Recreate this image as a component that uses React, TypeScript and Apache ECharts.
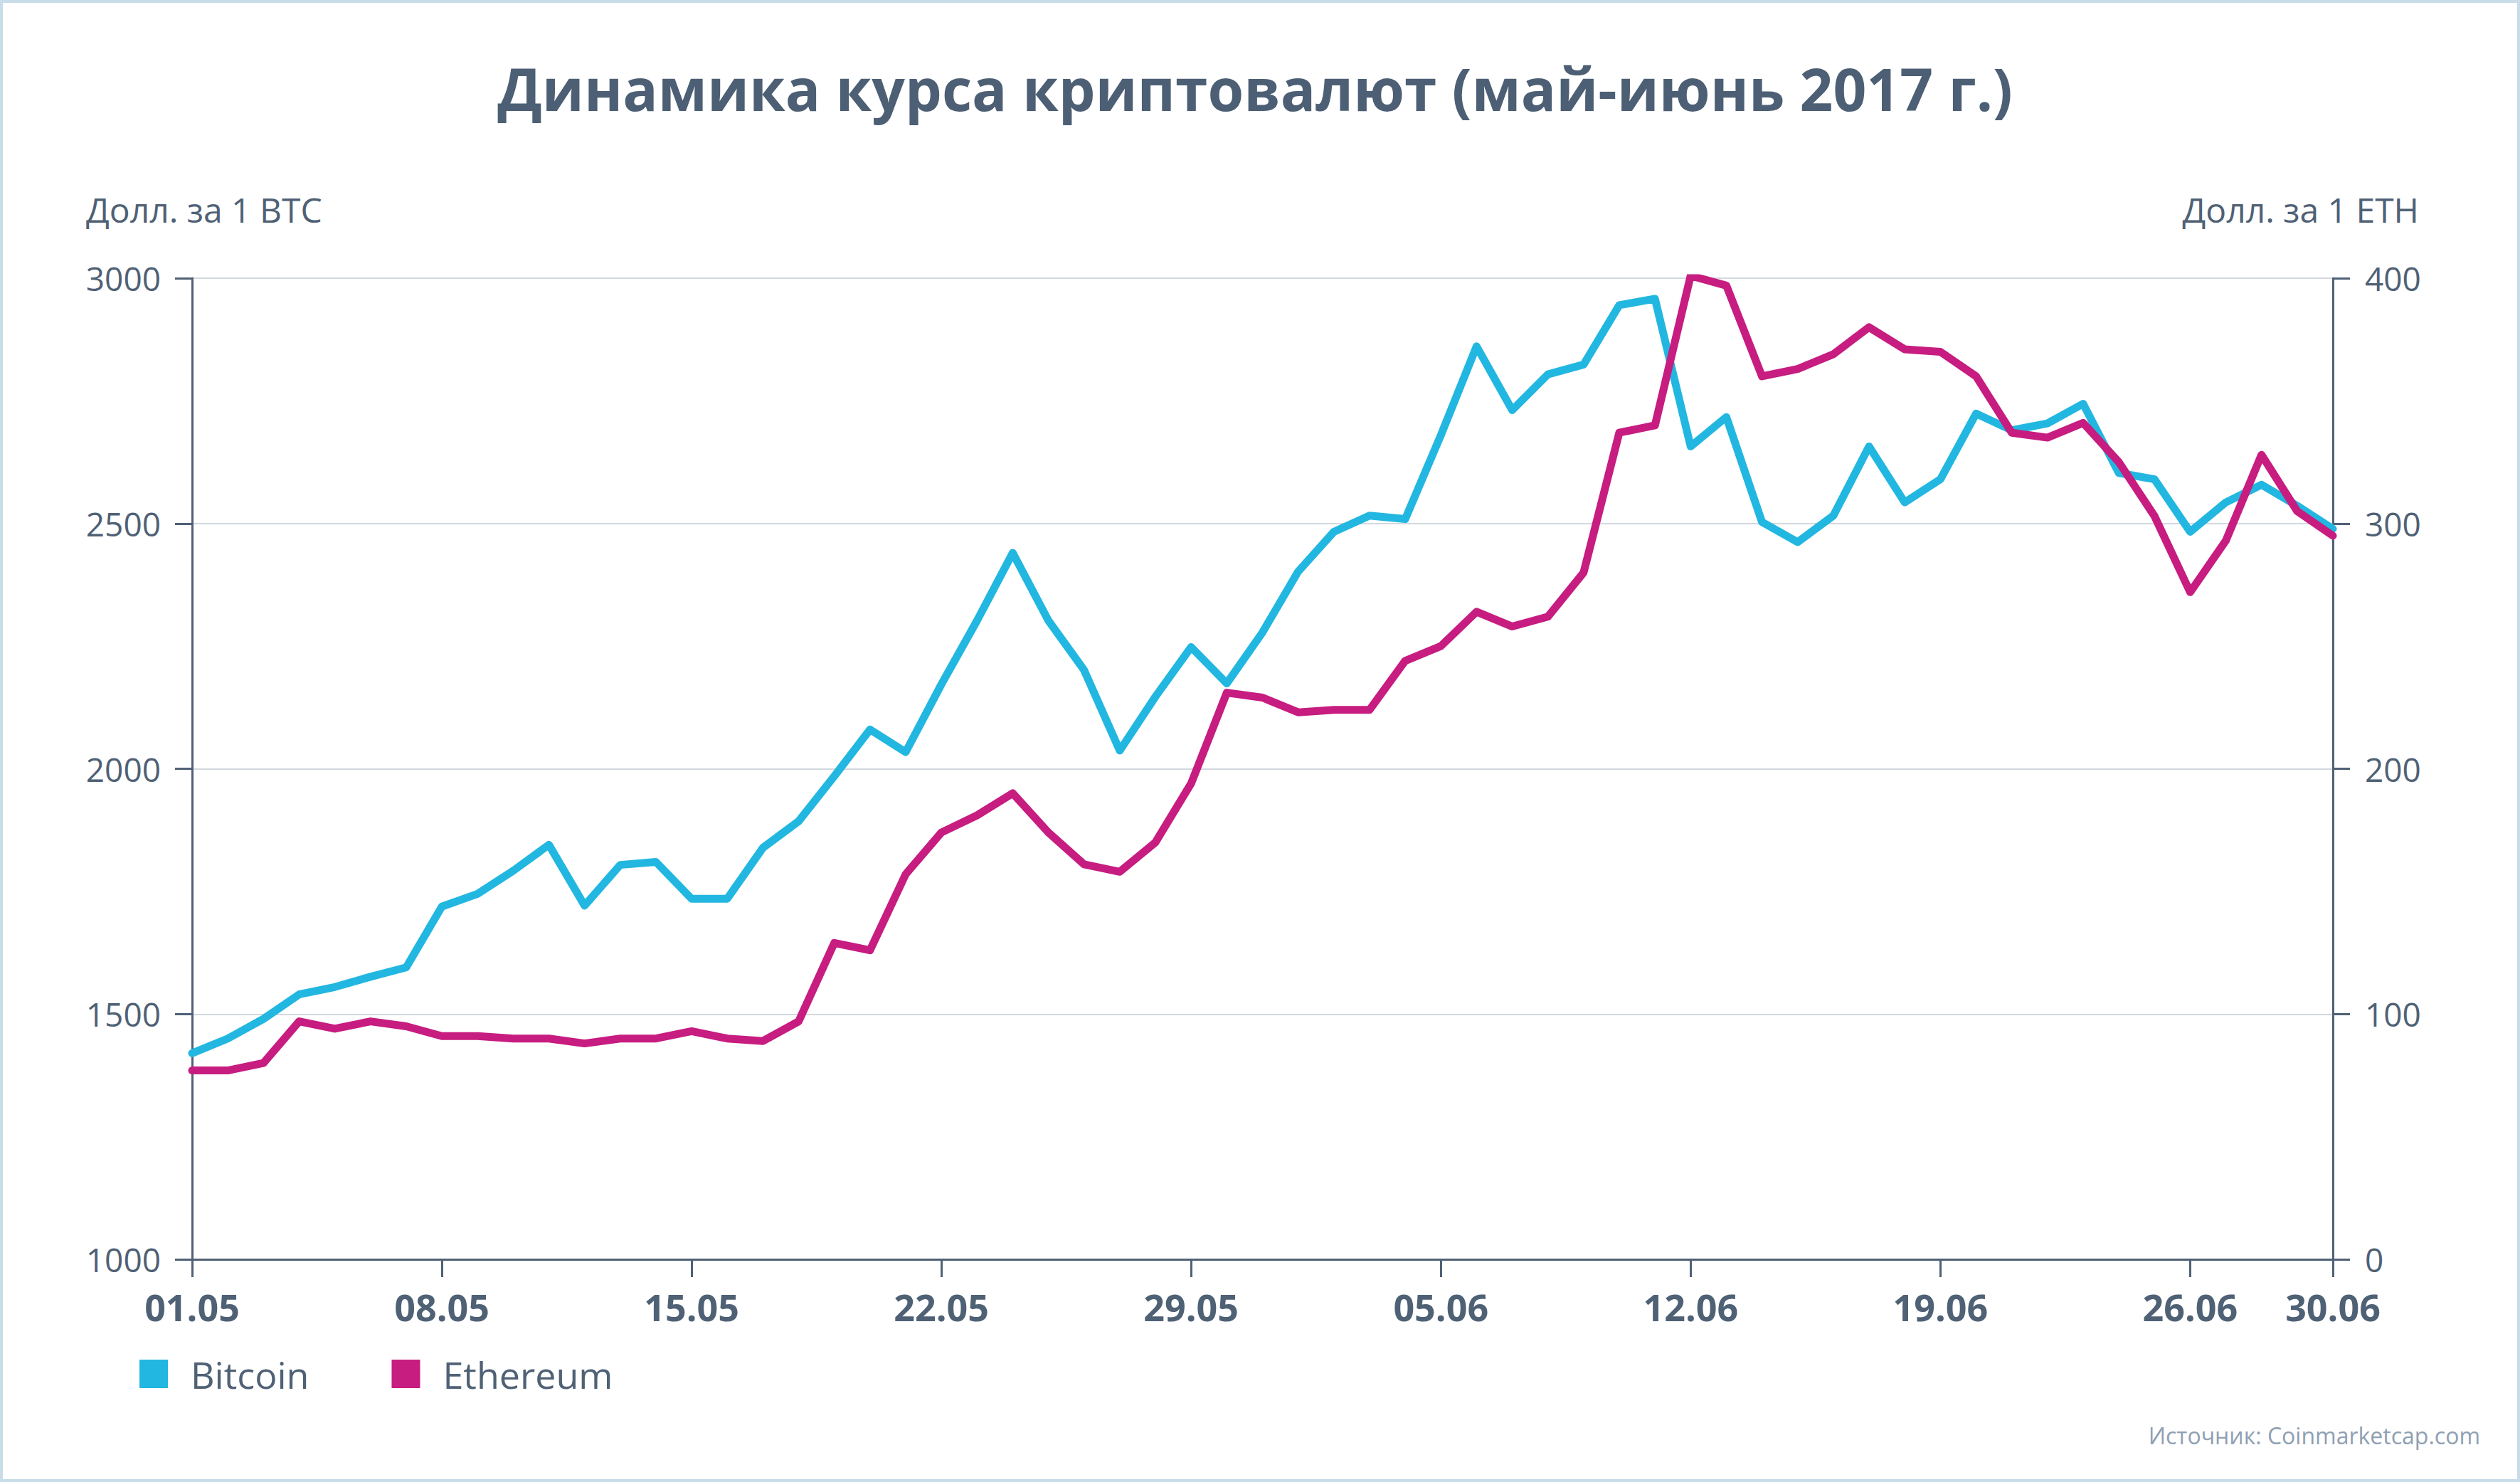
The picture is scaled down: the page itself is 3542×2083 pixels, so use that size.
import React, { useEffect, useRef } from "react";
import * as echarts from "echarts";

const dates: string[] = [
  "01.05", "02.05", "03.05", "04.05", "05.05", "06.05", "07.05", "08.05", "09.05", "10.05",
  "11.05", "12.05", "13.05", "14.05", "15.05", "16.05", "17.05", "18.05", "19.05", "20.05",
  "21.05", "22.05", "23.05", "24.05", "25.05", "26.05", "27.05", "28.05", "29.05", "30.05",
  "31.05", "01.06", "02.06", "03.06", "04.06", "05.06", "06.06", "07.06", "08.06", "09.06",
  "10.06", "11.06", "12.06", "13.06", "14.06", "15.06", "16.06", "17.06", "18.06", "19.06",
  "20.06", "21.06", "22.06", "23.06", "24.06", "25.06", "26.06", "27.06", "28.06", "29.06",
  "30.06",
];

const bitcoin: number[] = [
  1420, 1450, 1490, 1540, 1555, 1576, 1595, 1719, 1745, 1792,
  1845, 1721, 1804, 1810, 1735, 1735, 1839, 1893, 1985, 2080,
  2034, 2172, 2302, 2440, 2302, 2201, 2037, 2147, 2248, 2174,
  2278, 2402, 2483, 2516, 2509, 2680, 2861, 2731, 2804, 2824,
  2945, 2958, 2657, 2717, 2503, 2462, 2516, 2657, 2543, 2590,
  2724, 2690, 2704, 2744, 2603, 2590, 2483, 2543, 2579, 2536,
  2489,
];

const ethereum: number[] = [
  77, 77, 80, 97, 94, 97, 95, 91, 91, 90,
  90, 88, 90, 90, 93, 90, 89, 97, 129, 126,
  157, 174, 181, 190, 174, 161, 158, 170, 194, 231,
  229, 223, 224, 224, 244, 250, 264, 258, 262, 280,
  337, 340, 401, 397, 360, 363, 369, 380, 371, 370,
  360, 337, 335, 341, 325, 303, 272, 293, 328, 305,
  295,
];

const tickDates: string[] = ["01.05", "08.05", "15.05", "22.05", "29.05", "05.06", "12.06", "19.06", "26.06", "30.06"];

const TITLE = "Динамика курса криптовалют (май-июнь 2017 г.)";
const LEFT_NAME = "Долл. за 1 BTC";
const RIGHT_NAME = "Долл. за 1 ETH";
const SOURCE = "Источник: Coinmarketcap.com";
const SERIES_NAMES = ["Bitcoin", "Ethereum"];

const AXIS = "#4f6175";
const BTC_COLOR = "#22b7e0";
const ETH_COLOR = "#c71c80";
const FONT = "'Open Sans', 'Noto Sans', sans-serif";

export default function App() {
  const ref = useRef<HTMLDivElement>(null);

  useEffect(() => {
    if (!ref.current) return;
    const chart = echarts.init(ref.current, undefined, { renderer: "svg" });
    const showTick = (idx: number) => tickDates.includes(dates[idx]);

    chart.setOption({
      animation: false,
      backgroundColor: "#ffffff",
      textStyle: { fontFamily: FONT },
      grid: { left: 270, right: 263, top: 391, bottom: 313, containLabel: false },
      legend: {
        left: 196,
        top: 1905,
        padding: 0,
        itemWidth: 40,
        itemHeight: 40,
        itemGap: 116,
        icon: "rect",
        data: SERIES_NAMES,
        textStyle: { fontSize: 52, color: AXIS, fontFamily: FONT, padding: [0, 0, 0, 27] },
      },
      xAxis: {
        type: "category",
        data: dates,
        boundaryGap: false,
        axisLine: { show: true, lineStyle: { color: AXIS, width: 3 } },
        axisTick: { show: true, length: 25, interval: (i: number) => showTick(i), lineStyle: { color: AXIS, width: 3 } },
        axisLabel: {
          interval: (i: number) => showTick(i),
          margin: 40,
          fontSize: 52,
          fontWeight: "bold",
          color: AXIS,
          fontFamily: FONT,
          hideOverlap: false,
        },
        splitLine: { show: false },
      },
      yAxis: [
        {
          type: "value",
          min: 1000,
          max: 3000,
          interval: 500,
          position: "left",
          axisLine: { show: true, lineStyle: { color: AXIS, width: 3 } },
          axisTick: { show: true, length: 24, lineStyle: { color: AXIS, width: 3 } },
          axisLabel: { margin: 44, fontSize: 46, color: AXIS, fontFamily: FONT, formatter: (v: number) => String(v) },
          splitLine: { show: true, lineStyle: { color: "#d3d8de", width: 2 } },
        },
        {
          type: "value",
          min: 0,
          max: 400,
          interval: 100,
          position: "right",
          axisLine: { show: true, lineStyle: { color: AXIS, width: 3 } },
          axisTick: { show: true, length: 24, lineStyle: { color: AXIS, width: 3 } },
          axisLabel: { margin: 45, fontSize: 46, color: AXIS, fontFamily: FONT, formatter: (v: number) => String(v) },
          splitLine: { show: false },
        },
      ],
      series: [
        {
          name: SERIES_NAMES[0],
          type: "line",
          data: bitcoin,
          yAxisIndex: 0,
          showSymbol: false,
          symbol: "none",
          itemStyle: { color: BTC_COLOR },
          lineStyle: { color: BTC_COLOR, width: 11, cap: "round", join: "round" },
          z: 3,
        },
        {
          name: SERIES_NAMES[1],
          type: "line",
          data: ethereum,
          yAxisIndex: 1,
          showSymbol: false,
          symbol: "none",
          itemStyle: { color: ETH_COLOR },
          lineStyle: { color: ETH_COLOR, width: 11, cap: "round", join: "round" },
          z: 4,
        },
      ],
      graphic: [
        {
          type: "rect",
          silent: true,
          shape: { x: 2, y: 2, width: 3538, height: 2079 },
          style: { fill: "none", stroke: "#c8dde9", lineWidth: 4 },
        },
        {
          type: "text",
          x: 1764,
          y: 124,
          style: { text: TITLE, font: `bold 82px ${FONT}`, fill: "#4d5f74", align: "center", verticalAlign: "middle" },
        },
        {
          type: "text",
          x: 121,
          y: 294,
          style: { text: LEFT_NAME, font: `48px ${FONT}`, fill: AXIS, align: "left", verticalAlign: "middle" },
        },
        {
          type: "text",
          x: 3400,
          y: 294,
          style: { text: RIGHT_NAME, font: `48px ${FONT}`, fill: AXIS, align: "right", verticalAlign: "middle" },
        },
        {
          type: "text",
          x: 3486,
          y: 2017,
          style: { text: SOURCE, font: `32px ${FONT}`, fill: "#8fa0b3", align: "right", verticalAlign: "middle" },
        },
      ],
    });

    return () => chart.dispose();
  }, []);

  return (
    <div
      ref={ref}
      style={{ position: "fixed", left: 0, top: 0, width: 3542, height: 2083, background: "#fff" }}
    />
  );
}
